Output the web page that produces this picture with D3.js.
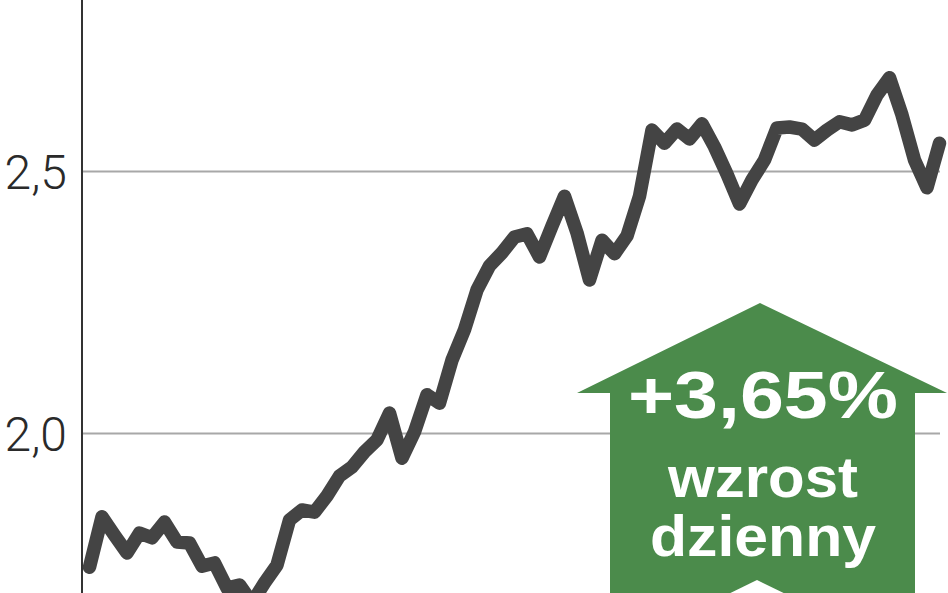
<!DOCTYPE html>
<html>
<head>
<meta charset="utf-8">
<script src="https://cdn.jsdelivr.net/npm/d3@7"></script>
<style>
	html, body { margin: 0; padding: 0; background: #fff; }
	svg { display: block; }
</style>
</head>
<body>
<div id="chart"></div>
<script>
'use strict';

// daily session index
var days = d3.range(0, 69);

// closing values
var closes = [
	1.744, 1.840, 1.805, 1.771, 1.809, 1.800, 1.830, 1.792, 1.790, 1.746,
	1.752, 1.704, 1.710, 1.676, 1.714, 1.748, 1.834, 1.853, 1.849, 1.880,
	1.918, 1.935, 1.964, 1.987, 2.038, 1.952, 2.002, 2.073, 2.057, 2.139,
	2.197, 2.273, 2.319, 2.344, 2.374, 2.380, 2.336, 2.395, 2.452, 2.382,
	2.292, 2.368, 2.342, 2.376, 2.452, 2.578, 2.553, 2.580, 2.561, 2.590,
	2.546, 2.494, 2.437, 2.483, 2.521, 2.582, 2.584, 2.580, 2.559, 2.578,
	2.594, 2.588, 2.597, 2.645, 2.678, 2.607, 2.521, 2.468, 2.553
];

var yTicks = [2.0, 2.5];

var badgeLines = ['+3,65%', 'wzrost', 'dzienny'];

var width = 948,
		height = 593;

var data = days.map(function (d, i)	{
	return { day: d, value: closes[i] };
});

var x = d3.scaleLinear()
	.domain([d3.min(days), d3.max(days)])
	.range([89.5, 939.5]);

var y = d3.scaleLinear()
	.domain([2.0, 2.5])
	.range([433, 171]);

var plFormat = d3.formatLocale({ decimal: ',', thousands: ' ', grouping: [3], currency: ['', ' zł'] })
	.format('.1f');

var svg = d3.select('#chart').append('svg')
	.attr('width', width)
	.attr('height', height);

// grid + labels
var yAxis = d3.axisLeft(y)
	.tickValues(yTicks)
	.tickSize(-(940 - 82))
	.tickPadding(15)
	.tickFormat(plFormat);

var axisG = svg.append('g')
	.attr('class', 'yaxis')
	.attr('transform', 'translate(82, 0)')
	.call(yAxis);

axisG.select('.domain').remove();
axisG.selectAll('.tick line')
	.attr('stroke', '#a8a8a8')
	.attr('stroke-width', 2);
axisG.selectAll('.tick text')
	.attr('fill', '#2a2a2a')
	.attr('font-family', 'Roboto, "Open Sans", sans-serif')
	.attr('font-weight', 300)
	.attr('font-size', 48)
	.attr('dy', '0.36em');

// vertical axis line
svg.append('line')
	.attr('x1', 82).attr('x2', 82)
	.attr('y1', 0).attr('y2', height)
	.attr('stroke', '#333')
	.attr('stroke-width', 2);

// price line
var line = d3.line()
	.x(function (d) { return x(d.day); })
	.y(function (d) { return y(d.value); });

svg.append('path')
	.datum(data)
	.attr('d', line)
	.attr('fill', 'none')
	.attr('stroke', '#444')
	.attr('stroke-width', 13.5)
	.attr('stroke-linejoin', 'round')
	.attr('stroke-linecap', 'round');

// green arrow badge
var badge = svg.append('g').attr('class', 'badge');

badge.append('path')
	.attr('d', 'M760,303 L947,393 L915,393 L915,593 L610,593 L610,393 L577,393 Z')
	.attr('fill', '#4b8b4b');

badge.append('path')
	.attr('d', 'M757,580 L800,601 L714,601 Z')
	.attr('fill', '#fff');

var badgeStyle = [
	{ y: 418, size: 66, len: 270 },
	{ y: 497, size: 58, len: 190 },
	{ y: 556, size: 58, len: 226 }
];

badge.selectAll('text')
	.data(badgeLines)
	.enter().append('text')
	.attr('x', 763)
	.attr('y', function (d, i) { return badgeStyle[i].y; })
	.attr('text-anchor', 'middle')
	.attr('fill', '#fff')
	.attr('font-family', '"Liberation Sans", Arial, sans-serif')
	.attr('font-weight', 'bold')
	.attr('font-size', function (d, i) { return badgeStyle[i].size; })
	.attr('textLength', function (d, i) { return badgeStyle[i].len; })
	.attr('lengthAdjust', 'spacingAndGlyphs')
	.text(function (d) { return d; });
</script>
</body>
</html>
